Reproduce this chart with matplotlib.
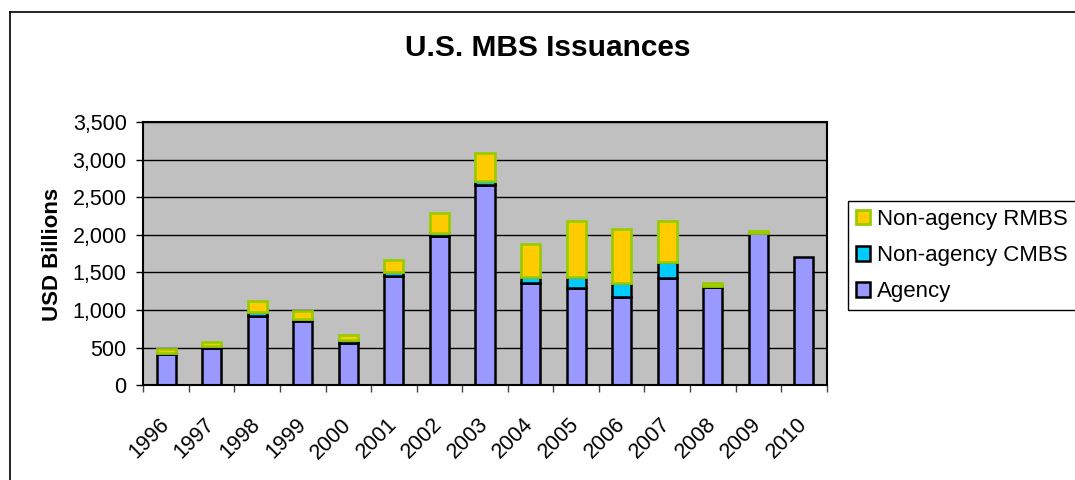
import numpy as np
import matplotlib
matplotlib.use("Agg")
import matplotlib.pyplot as plt
from matplotlib.lines import Line2D
from matplotlib.ticker import FuncFormatter, MultipleLocator

plt.rcParams['font.family'] = ['Liberation Sans', 'DejaVu Sans']

# data (USD billions)
years = ['1996', '1997', '1998', '1999', '2000', '2001', '2002', '2003',
         '2004', '2005', '2006', '2007', '2008', '2009', '2010']
agency = [420, 500, 920, 850, 560, 1450, 1980, 2665, 1355, 1290, 1180, 1420, 1310, 2020, 1710]
cmbs = [10, 20, 50, 35, 40, 50, 40, 55, 90, 145, 175, 220, 10, 5, 0]
rmbs = [50, 60, 150, 100, 65, 165, 265, 365, 435, 745, 725, 540, 40, 30, 0]

x = np.arange(len(years))
agency = np.array(agency)
cmbs = np.array(cmbs)
rmbs = np.array(rmbs)

fig = plt.figure(figsize=(10.75, 4.8), dpi=100)
ax = fig.add_axes([143.3 / 1075, 94.7 / 480, 683.4 / 1075, 263.3 / 480])
ax.set_facecolor('#C0C0C0')

w = 0.42
b_ag = ax.bar(x, agency, w, color='#9999FF', edgecolor='black', linewidth=1.8, label='Agency')
m = cmbs > 0
b_cm = ax.bar(x[m], cmbs[m], w, bottom=agency[m], color='#00CCFF', edgecolor='black',
              linewidth=1.8, label='Non-agency CMBS')
m = rmbs > 0
b_rm = ax.bar(x[m], rmbs[m], w, bottom=(agency + cmbs)[m], color='#FFCC00', edgecolor='#99CC00',
              linewidth=2, label='Non-agency RMBS')

ax.set_xlim(-0.5, len(years) - 0.5)
ax.set_ylim(0, 3500)
ax.yaxis.set_major_locator(MultipleLocator(500))
ax.yaxis.set_major_formatter(FuncFormatter(lambda v, p: f'{int(v):,}'))
ax.yaxis.grid(True, color='black', linewidth=1)
ax.set_axisbelow(True)

ax.set_xticks(x)
ax.set_xticklabels(years, rotation=45, ha='right', va='center', rotation_mode='anchor')
ax.set_xticks(np.arange(-0.5, len(years)), minor=True)
ax.tick_params(axis='x', which='major', length=0, pad=26, labelsize=15.5)
ax.tick_params(axis='x', which='minor', length=5, width=1, color='#444444')
ax.tick_params(axis='y', length=5, width=1, labelsize=15.5, pad=7)

for s in ax.spines.values():
    s.set_linewidth(1.5)
    s.set_color('black')

fig.text(547.5 / 1075, 1 - 47.5 / 480, 'U.S. MBS Issuances', ha='center', va='center',
         fontsize=21.5, fontweight='bold')
fig.text(52 / 1075, 1 - 254 / 480, 'USD Billions', ha='center', va='center',
         rotation=90, fontsize=16, fontweight='bold')

leg = ax.legend(handles=[b_rm, b_cm, b_ag], loc='upper left',
                bbox_to_anchor=(848.3 / 1075, 1 - 201 / 480), bbox_transform=fig.transFigure,
                fontsize=16, frameon=True, fancybox=False, edgecolor='black', framealpha=1,
                borderaxespad=0, borderpad=0.36, labelspacing=0.68,
                handlelength=0.63, handleheight=0.63, handletextpad=0.3)
leg.get_frame().set_linewidth(1)

# chart border (runs off the right and bottom edges)
fig.add_artist(Line2D([10 / 1075, 10 / 1075], [0, 1 - 12 / 480], transform=fig.transFigure,
                      color='black', linewidth=1.2))
fig.add_artist(Line2D([10 / 1075, 1], [1 - 12 / 480, 1 - 12 / 480], transform=fig.transFigure,
                      color='black', linewidth=1.2))

fig.savefig('out.png', dpi=100)
